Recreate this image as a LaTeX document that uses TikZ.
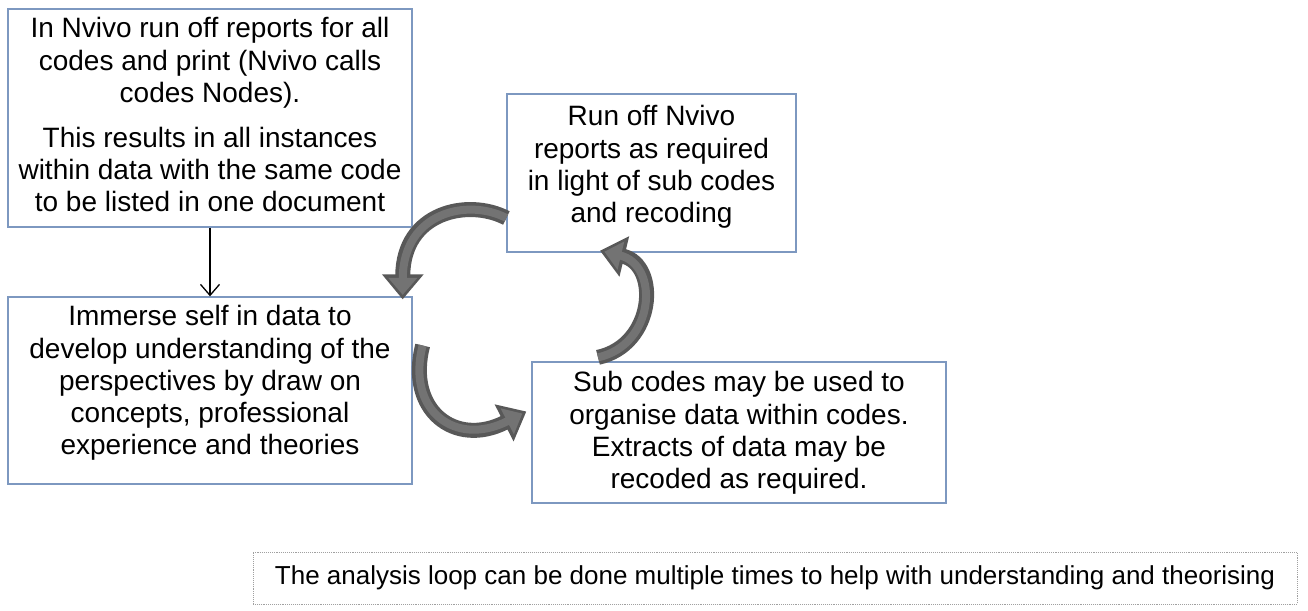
\documentclass[tikz,border=0pt]{standalone}
\usepackage{fontspec}
\setmainfont{Liberation Sans}
\usetikzlibrary{arrows.meta}
\definecolor{boxline}{HTML}{7D98C0}
\definecolor{arrowdark}{HTML}{585858}
\definecolor{arrowlight}{HTML}{737373}
\definecolor{noteline}{HTML}{A0A0A0}
\tikzset{
  box/.style={draw=boxline, line width=1.3pt, fill=white, inner sep=0pt},
  boxtext/.style={anchor=north, align=center, inner sep=0pt, font=\fontsize{28}{32.2}\selectfont},
  curvedouter/.style={draw=arrowdark, line width=15pt, -{Triangle[length=25pt,width=40pt]}},
  curvedinner/.style={draw=arrowlight, line width=8pt, shorten >=4.5pt, -{Triangle[length=17pt,width=28pt]}},
  plainarrow/.style={draw=black, line width=1.3pt, -{Straight Barb[length=11pt,width=19pt]}},
  notebox/.style={draw=noteline, line width=0.9pt, densely dotted, inner sep=0pt}
}
\begin{document}
\begin{tikzpicture}[x=1pt,y=-1pt]
\useasboundingbox[fill=white] (0,0) rectangle (1308,610);

% boxes (corners in pixels)
\node[box, minimum width=404pt, minimum height=218pt] (b1) at (210,118) {};
\node[boxtext] (t1) at ([yshift=-9pt]b1.north) {In Nvivo run off reports for all\\codes and print (Nvivo calls\\codes Nodes).\\[13pt]This results in all instances\\within data with the same code\\to be listed in one document};

\node[box, minimum width=404pt, minimum height=187pt] (b2) at (210,390.5) {};
\node[boxtext] (t2) at ([yshift=-9pt]b2.north) {Immerse self in data to\\develop understanding of the\\perspectives by draw on\\concepts, professional\\experience and theories};

\node[box, minimum width=289pt, minimum height=158pt] (b3) at (651.5,173) {};
\node[boxtext] (t3) at ([yshift=-12pt]b3.north) {Run off Nvivo\\reports as required\\in light of sub codes\\and recoding};

\node[box, minimum width=414pt, minimum height=141pt] (b4) at (739,432.5) {};
\node[boxtext] (t4) at ([yshift=-10pt]b4.north) {Sub codes may be used to\\organise data within codes.\\Extracts of data may be\\recoded as required.};

\node[notebox, minimum width=1044pt, minimum height=52pt, font=\fontsize{26}{30}\selectfont] (note) at (775,578) {The analysis loop can be done multiple times to help with understanding and theorising};

% straight arrow
\draw[plainarrow] (b1.south) -- (b2.north);

% curved arrow A: Run off -> Immerse
\coordinate (a0) at ([yshift=-45pt]b3.west);
\coordinate (a1) at ([xshift=-10pt,yshift=-3pt]b2.north east);
\draw[curvedouter] (a0) .. controls (468,198) and (403,212) .. (a1);
\draw[curvedinner] (a0) .. controls (468,198) and (403,212) .. (a1);

% curved arrow B: Immerse -> Sub codes
\coordinate (c0) at ([xshift=10pt,yshift=45pt]b2.east);
\coordinate (c1) at ([xshift=-5pt,yshift=21pt]b4.west);
\draw[curvedouter] (c0) .. controls (406,410) and (455,448) .. (c1);
\draw[curvedinner] (c0) .. controls (406,410) and (455,448) .. (c1);

% curved arrow C: Sub codes -> Run off
\coordinate (d0) at ([xshift=-141pt,yshift=4pt]b4.north);
\coordinate (d1) at ([xshift=-51.5pt,yshift=2pt]b3.south);
\draw[curvedouter] (d0) .. controls (655,345) and (660,265) .. (d1);
\draw[curvedinner] (d0) .. controls (655,345) and (660,265) .. (d1);
\end{tikzpicture}
\end{document}
